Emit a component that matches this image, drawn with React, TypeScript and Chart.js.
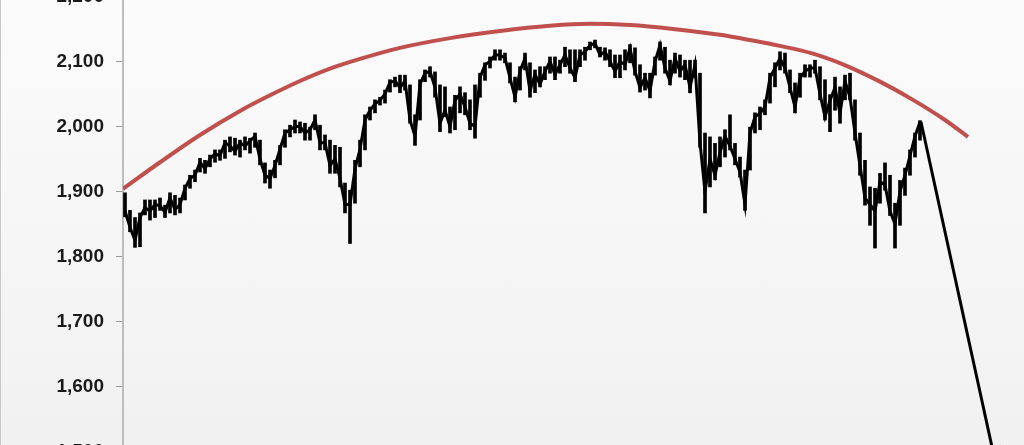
import React, { useEffect, useRef } from "react";
import { Chart, registerables } from "chart.js";

Chart.register(...registerables);

// y-axis tick values
const yTicks = [1500, 1600, 1700, 1800, 1900, 2000, 2100, 2200];

// price samples (index 0..159), high / low / close
const priceHigh = [
  1898, 1871, 1860, 1867, 1887, 1887, 1887, 1890, 1879, 1898,
  1894, 1890, 1910, 1925, 1933, 1951, 1948, 1956, 1964, 1964,
  1979, 1984, 1982, 1979, 1984, 1982, 1990, 1979, 1944, 1933,
  1948, 1971, 1995, 2002, 2010, 2007, 2005, 1999, 2018, 2002,
  1987, 1979, 1971, 1968, 1913, 1902, 1948, 1979, 2018, 2030,
  2041, 2045, 2056, 2072, 2076, 2079, 2079, 2064, 2018, 2072,
  2087, 2092, 2084, 2064, 2061, 2030, 2048, 2061, 2052, 2041,
  2064, 2082, 2098, 2107, 2118, 2118, 2113, 2098, 2076, 2092,
  2113, 2098, 2087, 2092, 2092, 2107, 2107, 2102, 2122, 2118,
  2118, 2118, 2122, 2130, 2133, 2122, 2121, 2118, 2110, 2110,
  2118, 2126, 2121, 2095, 2082, 2082, 2107, 2130, 2122, 2102,
  2113, 2110, 2102, 2102, 2102, 2082, 1990, 1984, 1974, 1984,
  1995, 2018, 1974, 1953, 1933, 1999, 2021, 2030, 2041, 2082,
  2098, 2115, 2113, 2087, 2067, 2082, 2095, 2095, 2102, 2092,
  2072, 2049, 2076, 2061, 2079, 2082, 2041, 1990, 1948, 1907,
  1905, 1928, 1944, 1925, 1882, 1917, 1936, 1964, 1990, 2009,
];
const priceLow = [
  1861, 1838, 1814, 1815, 1864, 1856, 1860, 1871, 1860, 1867,
  1864, 1867, 1887, 1905, 1915, 1930, 1928, 1938, 1945, 1948,
  1951, 1961, 1956, 1953, 1964, 1959, 1968, 1941, 1913, 1905,
  1921, 1941, 1968, 1984, 1990, 1990, 1979, 1979, 1995, 1964,
  1964, 1928, 1928, 1907, 1867, 1820, 1882, 1938, 1964, 2010,
  2021, 2033, 2036, 2053, 2061, 2052, 2056, 2005, 1971, 2010,
  2069, 2076, 2045, 1992, 2015, 1990, 1995, 2021, 2018, 1995,
  1982, 2045, 2071, 2090, 2102, 2102, 2098, 2067, 2038, 2056,
  2087, 2045, 2052, 2061, 2072, 2082, 2072, 2082, 2092, 2082,
  2069, 2092, 2102, 2118, 2121, 2107, 2102, 2092, 2075, 2075,
  2087, 2098, 2079, 2053, 2056, 2044, 2079, 2102, 2082, 2064,
  2082, 2076, 2072, 2052, 2075, 1968, 1867, 1907, 1918, 1938,
  1953, 1964, 1941, 1922, 1871, 1933, 1990, 1995, 2018, 2036,
  2061, 2087, 2082, 2052, 2021, 2045, 2076, 2076, 2082, 2041,
  2010, 1992, 2025, 2005, 2041, 2041, 1979, 1925, 1879, 1848,
  1813, 1882, 1902, 1863, 1813, 1848, 1894, 1925, 1953, 1979,
];
const priceClose = [
  1870, 1845, 1825, 1860, 1875, 1870, 1880, 1878, 1868, 1890,
  1872, 1880, 1905, 1920, 1925, 1945, 1935, 1950, 1958, 1955,
  1975, 1970, 1962, 1975, 1970, 1978, 1985, 1950, 1925, 1920,
  1940, 1965, 1990, 1995, 2000, 2000, 1990, 1995, 2010, 1975,
  1975, 1940, 1950, 1920, 1880, 1880, 1935, 1965, 2010, 2025,
  2035, 2040, 2050, 2068, 2070, 2060, 2070, 2010, 1985, 2065,
  2082, 2085, 2060, 2005, 2025, 2000, 2040, 2050, 2030, 2005,
  2000, 2075, 2095, 2100, 2110, 2110, 2105, 2075, 2045, 2085,
  2105, 2055, 2080, 2065, 2085, 2100, 2080, 2095, 2110, 2090,
  2075, 2110, 2115, 2125, 2128, 2110, 2115, 2100, 2085, 2100,
  2095, 2120, 2085, 2060, 2075, 2055, 2100, 2125, 2090, 2070,
  2105, 2085, 2095, 2060, 2095, 1975, 1900, 1950, 1925, 1960,
  1985, 1970, 1950, 1930, 1880, 1990, 2015, 2020, 2030, 2075,
  2090, 2105, 2090, 2060, 2030, 2075, 2085, 2090, 2090, 2050,
  2015, 2040, 2060, 2020, 2070, 2045, 1990, 1940, 1890, 1880,
  1870, 1915, 1910, 1870, 1850, 1900, 1925, 1955, 1985, 2007,
];

// red arc (x in sample units, y in index points)
const arcX = [-0.4, 7, 15, 23, 29, 35, 41, 47, 55, 65, 75, 85, 93, 101, 109.6, 119, 125, 131, 137.6, 144.4, 151, 157.6, 164, 168.6];
const arcY = [1904, 1945, 1987, 2024, 2048, 2070, 2089, 2104, 2121, 2136, 2147, 2155, 2158, 2156, 2150, 2141, 2133, 2124, 2112, 2093, 2069, 2041, 2010, 1984];

// projected drop arrow
const arrowX = [159.2, 173.6];
const arrowY = [2007, 1500];

export default function App() {
  const ref = useRef<HTMLCanvasElement | null>(null);

  useEffect(() => {
    if (!ref.current) return;
    const chart = new Chart(ref.current, {
      type: "bar",
      data: {
        datasets: [
          {
            type: "line",
            data: arcX.map((x, i) => ({ x, y: arcY[i] })),
            borderColor: "#c0504d",
            borderWidth: 4,
            pointRadius: 0,
            cubicInterpolationMode: "monotone",
            order: 1,
          } as any,
          {
            type: "line",
            data: arrowX.map((x, i) => ({ x, y: arrowY[i] })),
            borderColor: "#000000",
            backgroundColor: "#000000",
            borderWidth: 3,
            pointRadius: [0, 7],
            pointHoverRadius: 0,
            pointStyle: "triangle",
            rotation: 168,
            pointBackgroundColor: "#000000",
            pointBorderColor: "#000000",
            tension: 0,
            order: 0,
          } as any,
          {
            type: "line",
            data: priceClose.map((y, i) => ({ x: i, y })),
            borderColor: "#000000",
            borderWidth: 3,
            pointRadius: 0,
            tension: 0,
            order: 2,
          } as any,
          {
            type: "bar",
            data: priceHigh.map((h, i) => ({ x: i, y: [priceLow[i], h] })),
            backgroundColor: "#000000",
            borderWidth: 0,
            barThickness: 3,
            order: 3,
          } as any,
        ],
      },
      options: {
        animation: false,
        responsive: false,
        devicePixelRatio: 1,
        events: [],
        layout: { padding: 0, autoPadding: false },
        plugins: { legend: { display: false }, tooltip: { enabled: false }, title: { display: false } },
        scales: {
          x: {
            type: "linear",
            display: false,
            min: -0.4,
            max: 179.8,
            offset: false,
          },
          y: {
            type: "linear",
            min: 1450,
            max: 2250,
            position: "left",
            border: { display: true, color: "#bdbdbd", width: 2 },
            grid: {
              display: true,
              drawOnChartArea: false,
              drawTicks: true,
              tickLength: 7,
              color: "#9a9a9a",
              lineWidth: 1,
            },
            ticks: {
              padding: 12,
              color: "#1a1a1a",
              font: { family: "'Liberation Sans', Arial, sans-serif", size: 19, weight: "bold" },
              callback: (v: any) => Number(v).toLocaleString("en-US"),
              autoSkip: false,
            },
            afterBuildTicks: (s: any) => {
              s.ticks = yTicks.map((v) => ({ value: v }));
            },
            afterFit: (s: any) => {
              s.width = 123;
              s.paddingTop = 0;
              s.paddingBottom = 0;
            },
          },
        },
      } as any,
    });
    return () => chart.destroy();
  }, []);

  return (
    <div
      style={{
        position: "fixed",
        left: 0,
        top: 0,
        width: 1024,
        height: 445,
        overflow: "hidden",
        background: "linear-gradient(#fbfbfb, #f1f1f1)",
      }}
    >
      <div style={{ position: "absolute", left: 0, top: 0, width: 1, height: 445, background: "#c8c8c8" }} />
      <canvas
        ref={ref}
        width={1024}
        height={520}
        style={{ position: "absolute", left: 0, top: -36, width: 1024, height: 520 }}
      />
    </div>
  );
}
